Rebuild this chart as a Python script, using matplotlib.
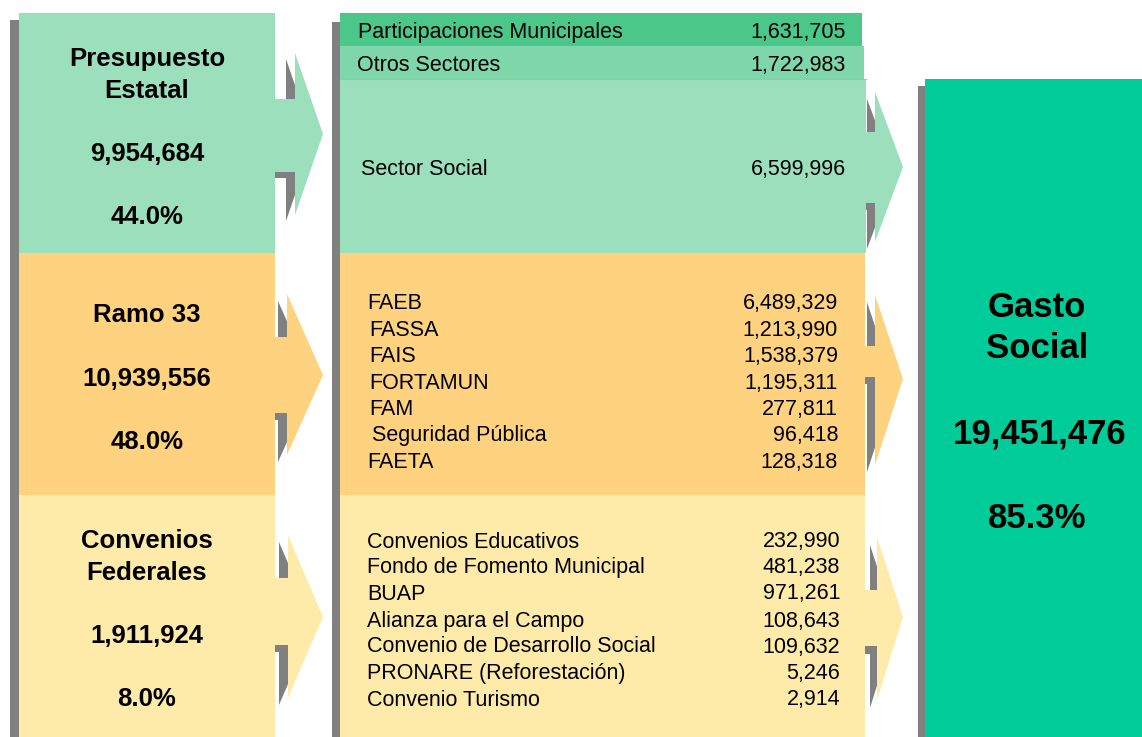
import matplotlib.pyplot as plt
from matplotlib.patches import Rectangle, Polygon

# ── Data ──
source_names = ["Presupuesto\nEstatal", "Ramo 33", "Convenios\nFederales"]
source_values = ["9,954,684", "10,939,556", "1,911,924"]
source_shares = ["44.0%", "48.0%", "8.0%"]

top_items = ["Participaciones Municipales", "Otros Sectores"]
top_values = ["1,631,705", "1,722,983"]

estatal_items = ["Sector Social"]
estatal_values = ["6,599,996"]

ramo33_items = ["FAEB", "FASSA", "FAIS", "FORTAMUN", "FAM",
                "Seguridad Pública", "FAETA"]
ramo33_values = ["6,489,329", "1,213,990", "1,538,379", "1,195,311",
                 "277,811", "96,418", "128,318"]

convenios_items = ["Convenios Educativos", "Fondo de Fomento Municipal", "BUAP",
                   "Alianza para el Campo", "Convenio de Desarrollo Social",
                   "PRONARE (Reforestación)", "Convenio Turismo"]
convenios_values = ["232,990", "481,238", "971,261", "108,643", "109,632",
                    "5,246", "2,914"]

total_name = "Gasto\nSocial"
total_value = "19,451,476"
total_share = "85.3%"

# ── Style ──
GREEN = "#9CDFBD"
ORANGE = "#FFD27F"
YELLOW = "#FFEBA9"
DARK_GREEN = "#4BC78A"
MID_GREEN = "#7FD6AA"
TOTAL_GREEN = "#00CC99"
GREY = "#808080"
FONT = "Liberation Sans"
DY = 2  # small baseline nudge

W, H = 1142, 737
fig = plt.figure(figsize=(W / 100, H / 100), dpi=100)
ax = fig.add_axes([0, 0, 1, 1])
ax.set_xlim(0, W)
ax.set_ylim(H, 0)
ax.axis("off")


def arrow_pts(x0, xb, xt, by0, by1, ty0, ty1, tipy):
    return [(x0, by0), (xb, by0), (xb, ty0), (xt, tipy),
            (xb, ty1), (xb, by1), (x0, by1)]


def arrow(x0, xb, xt, by0, by1, ty0, ty1, tipy, color, dx, dy):
    pts = arrow_pts(x0, xb, xt, by0, by1, ty0, ty1, tipy)
    ax.add_patch(Polygon([(px - dx, py + dy) for px, py in pts],
                         closed=True, fc=GREY, ec="none", zorder=1))
    ax.add_patch(Polygon(pts, closed=True, fc=color, ec="none", zorder=3))


def box(x0, y0, x1, y1, color, z=2):
    ax.add_patch(Rectangle((x0, y0), x1 - x0, y1 - y0, fc=color, ec="none",
                           zorder=z))


# shadows of columns
box(10, 20, 19, H, GREY, 1)
box(332, 22, 340, H, GREY, 1)
box(918, 86, 925, H, GREY, 1)

# left column
left_bands = [(13, 253, GREEN), (253, 495, ORANGE), (495, H, YELLOW)]
for y0, y1, c in left_bands:
    box(19, y0, 275, y1, c)

# middle column
box(340, 13, 862, 46, DARK_GREEN)
box(340, 46, 864, 79, MID_GREEN)
box(340, 79, 866, 253, GREEN)
ax.plot([340, 866], [79, 79], color="#8CCBAA", lw=0.8, zorder=2.5)
box(340, 253, 865, 495, ORANGE)
box(340, 495, 865, H, YELLOW)

# right column
box(925, 79, W, H, TOTAL_GREEN)

# arrows left -> middle
arrow(270, 295, 323, 99, 172, 53, 215, 134, GREEN, 9, 6)
arrow(270, 287, 323, 337, 413, 294, 455, 375, ORANGE, 9, 7)
arrow(270, 288, 323, 578, 645, 535, 698, 617, YELLOW, 9, 7)
# arrows middle -> right
arrow(860, 875, 903, 132, 203, 92, 242, 167, GREEN, 8, 7)
arrow(860, 875, 903, 346, 377, 295, 465, 379, ORANGE, 8, 7)
arrow(860, 877, 903, 590, 646, 537, 700, 617, YELLOW, 7, 8)

bold = dict(fontfamily=FONT, fontweight="bold", ha="center", va="center",
            color="black", zorder=5)
reg = dict(fontfamily=FONT, fontsize=15.5, va="center", color="black", zorder=5)

# left column text
name_y = [73, 313, 555]
value_y = [152, 377, 634]
share_y = [215, 440, 697]
for i in range(3):
    ax.text(147, name_y[i] + DY, source_names[i], fontsize=18.5,
            linespacing=1.38, **bold)
    ax.text(147, value_y[i] + DY, source_values[i], fontsize=18.5, **bold)
    ax.text(147, share_y[i] + DY, source_shares[i], fontsize=18.5, **bold)

# middle text
for lbl, val, y, x in zip(top_items, top_values, [30, 63], [358, 357]):
    ax.text(x, y + DY, lbl, ha="left", **reg)
    ax.text(846, y + DY, val, ha="right", **reg)

ax.text(361, 167 + DY, estatal_items[0], ha="left", **reg)
ax.text(846, 167 + DY, estatal_values[0], ha="right", **reg)

ramo_y = [301, 328, 354, 381, 407, 433, 460]
ramo_x = [367, 369, 369, 369, 369, 372, 367]
for lbl, val, y, x in zip(ramo33_items, ramo33_values, ramo_y, ramo_x):
    ax.text(x, y + DY, lbl, ha="left", **reg)
    ax.text(838, y + DY, val, ha="right", **reg)

conv_y = [540, 566, 592, 619, 645, 671, 698]
for lbl, val, y in zip(convenios_items, convenios_values, conv_y):
    ax.text(367, y + DY, lbl, ha="left", **reg)
    ax.text(840, y + DY, val, ha="right", **reg)

# right text
ax.text(1037, 326 + DY, total_name, fontsize=25, linespacing=1.28, **bold)
ax.text(1040, 432 + DY, total_value, fontsize=25, **bold)
ax.text(1037, 517 + DY, total_share, fontsize=25, **bold)

fig.savefig("out.png", dpi=100)
